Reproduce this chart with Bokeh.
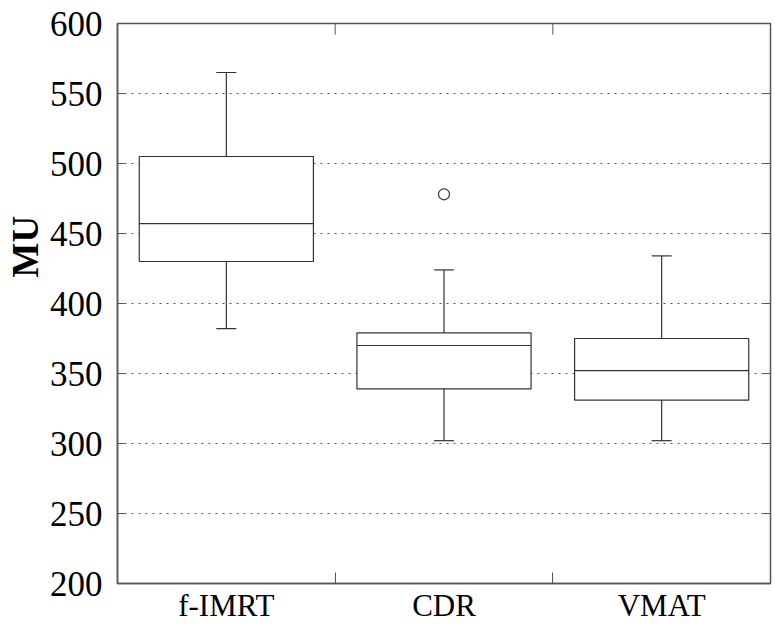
from bokeh.plotting import figure
from bokeh.models import ColumnDataSource, Range1d, FixedTicker, Title
from bokeh.embed import file_html
from bokeh.resources import INLINE

# ---- data ----
categories = ["f-IMRT", "CDR", "VMAT"]
lower_whisker = [382, 302, 302]
q1 = [430, 339, 331]
median = [457, 370, 352]
q3 = [505, 379, 375]
upper_whisker = [565, 424, 434]
outlier_category = ["CDR"]
outlier_value = [478]
y_ticks = [200, 250, 300, 350, 400, 450, 500, 550, 600]

FONT = "Liberation Serif"
LINE = "#333333"
FRAME = "#555555"

ncat = len(categories)
xpos = [i + 0.5 for i in range(ncat)]
boundaries = list(range(1, ncat))
box_w = 0.8
cap_w = 0.046
ytick_len = 0.032   # in x data units (~7 px)
xtick_len = 8       # in y data units (~11 px)

y_lo, y_hi = y_ticks[0], y_ticks[-1]

src = ColumnDataSource(dict(
    x=xpos,
    left=[x - box_w / 2 for x in xpos],
    right=[x + box_w / 2 for x in xpos],
    cl=[x - cap_w for x in xpos],
    cr=[x + cap_w for x in xpos],
    lo=lower_whisker, q1=q1, med=median, q3=q3, hi=upper_whisker,
))
out_src = ColumnDataSource(dict(
    x=[xpos[categories.index(c)] for c in outlier_category],
    y=outlier_value,
))

p = figure(width=775, height=625, output_backend="svg", toolbar_location=None,
           x_range=Range1d(0, ncat), y_range=Range1d(y_lo, y_hi),
           min_border_left=117, min_border_right=5, min_border_top=23,
           min_border_bottom=30)

p.outline_line_color = FRAME
p.outline_line_width = 1.5
p.background_fill_color = "white"
p.border_fill_color = "white"

# grid
p.xgrid.grid_line_color = None
p.ygrid.ticker = FixedTicker(ticks=y_ticks[1:-1])
p.ygrid.grid_line_color = "#555555"
p.ygrid.grid_line_dash = "2 5"
p.ygrid.grid_line_width = 1

# x axis (bottom)
xa = p.xaxis[0]
xa.ticker = FixedTicker(ticks=xpos, minor_ticks=boundaries)
xa.major_label_overrides = {x: c for x, c in zip(xpos, categories)}
xa.major_tick_line_color = None
xa.minor_tick_in = 11
xa.minor_tick_out = 0
xa.minor_tick_line_color = FRAME
xa.minor_tick_line_width = 1
xa.axis_line_color = FRAME
xa.axis_line_width = 1.5
xa.major_label_text_font = FONT
xa.major_label_text_font_size = "31px"
xa.major_label_text_color = "black"
xa.major_label_standoff = -2

# y axis (left)
ya = p.yaxis[0]
ya.ticker = FixedTicker(ticks=y_ticks)
ya.major_tick_in = 7
ya.major_tick_out = 0
ya.major_tick_line_color = FRAME
ya.minor_tick_line_color = None
ya.axis_line_color = FRAME
ya.axis_line_width = 1.5
ya.major_label_text_font = FONT
ya.major_label_text_font_size = "35px"
ya.major_label_text_color = "black"
ya.major_label_standoff = 15

# right-edge inward ticks and top-edge inward ticks
p.segment(x0=[ncat] * len(y_ticks), y0=y_ticks,
          x1=[ncat - ytick_len] * len(y_ticks), y1=y_ticks,
          line_color=FRAME, line_width=1)
p.segment(x0=boundaries, y0=[y_hi] * len(boundaries),
          x1=boundaries, y1=[y_hi - xtick_len] * len(boundaries),
          line_color=FRAME, line_width=1)

# whiskers
p.segment(x0="x", y0="q3", x1="x", y1="hi", source=src, line_color=LINE, line_width=1.2)
p.segment(x0="x", y0="lo", x1="x", y1="q1", source=src, line_color=LINE, line_width=1.2)
p.segment(x0="cl", y0="hi", x1="cr", y1="hi", source=src, line_color=LINE, line_width=1.2)
p.segment(x0="cl", y0="lo", x1="cr", y1="lo", source=src, line_color=LINE, line_width=1.2)
# boxes
p.quad(left="left", right="right", bottom="q1", top="q3", source=src,
       fill_color="white", line_color=LINE, line_width=1.2)
p.segment(x0="left", y0="med", x1="right", y1="med", source=src, line_color=LINE, line_width=1.2)
# outliers
p.scatter(x="x", y="y", source=out_src, marker="circle", size=11,
          fill_color="white", line_color=LINE, line_width=1.2)

# y axis title, placed above centre as in the reference
p.add_layout(Title(text="MU", align="left", offset=306, text_font=FONT,
                   text_font_size="37px", text_font_style="bold",
                   text_color="black", standoff=2), "left")

open("out.html", "w").write(file_html(p, INLINE))
